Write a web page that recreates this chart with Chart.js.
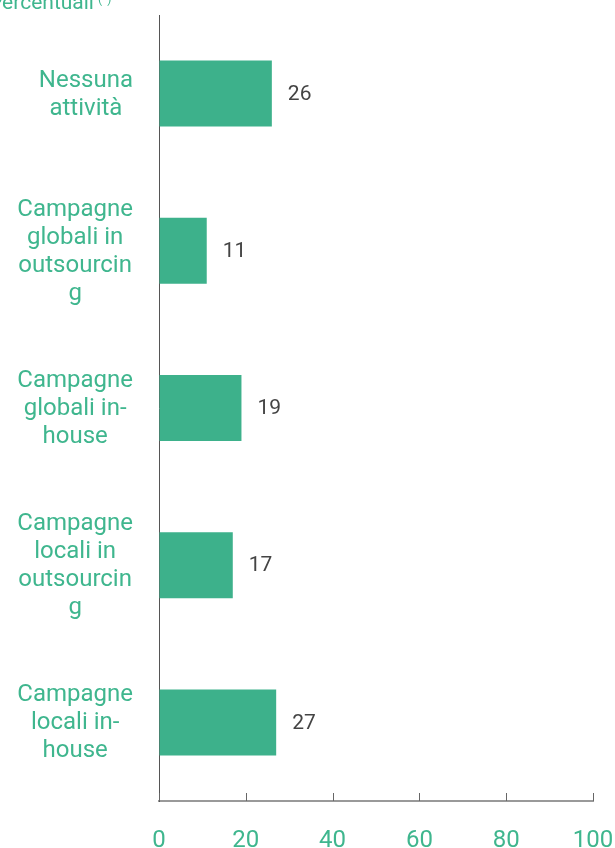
<!DOCTYPE html>
<html>
<head>
<meta charset="utf-8">
<script src="https://cdn.jsdelivr.net/npm/chart.js@4"></script>
<style>
  html, body { margin: 0; padding: 0; background: #fff; }
  #wrap { width: 615px; height: 848px; position: relative; }
</style>
</head>
<body>
<div id="wrap"><canvas id="bar-chart"></canvas></div>
<script>
// data
const categories = [
    ['Nessuna', 'attività'],
    ['Campagne', 'globali in', 'outsourcin', 'g'],
    ['Campagne', 'globali in-', 'house'],
    ['Campagne', 'locali in', 'outsourcin', 'g'],
    ['Campagne', 'locali in-', 'house']
];
const values = [26, 11, 19, 17, 27];
const xTicks = [0, 20, 40, 60, 80, 100];

const green = '#3db18b';
const labelGreen = '#3fb68e';

// title "Percentuali (*)" sits partly off the top edge
const titlePlugin = {
    id: 'titleText',
    afterDraw(chart) {
        const ctx = chart.ctx;
        ctx.save();
        ctx.fillStyle = labelGreen;
        ctx.textBaseline = 'alphabetic';
        ctx.textAlign = 'left';
        ctx.font = '21px Roboto';
        ctx.fillText('Percentuali', -11, 9);
        const w = ctx.measureText('Percentuali').width;
        ctx.font = '12px Roboto';
        ctx.fillText('(*)', -11 + w + 4, 3);
        ctx.restore();
    }
};

// y labels: lines centred inside a right aligned block
const yLabelPlugin = {
    id: 'yLabels',
    afterDraw(chart) {
        const ctx = chart.ctx;
        const yScale = chart.scales.y;
        const right = chart.chartArea.left - 26;
        const lh = 28;
        ctx.save();
        ctx.font = '24px Roboto';
        ctx.fillStyle = labelGreen;
        ctx.textAlign = 'center';
        ctx.textBaseline = 'middle';
        categories.forEach(function(lines, i){
            const yc = yScale.getPixelForValue(i) + 1;
            let widest = 0;
            lines.forEach(function(l){ widest = Math.max(widest, ctx.measureText(l).width); });
            const xc = right - widest / 2;
            const top = yc - (lines.length - 1) * lh / 2;
            lines.forEach(function(l, j){
                ctx.fillText(l, xc, top + j * lh);
            });
        });
        ctx.restore();
    }
};

// values at the end of each bar + tick marks pointing up from the x axis
const extrasPlugin = {
    id: 'extras',
    afterDatasetsDraw(chart) {
        const ctx = chart.ctx;
        const meta = chart.getDatasetMeta(0);
        ctx.save();
        ctx.font = '21px Roboto';
        ctx.fillStyle = '#444';
        ctx.textAlign = 'left';
        ctx.textBaseline = 'middle';
        meta.data.forEach(function(bar, i){
            ctx.fillText(String(values[i]), bar.x + 16, bar.y + 1);
        });

        const xScale = chart.scales.x;
        const bottom = chart.chartArea.bottom;
        ctx.strokeStyle = '#666';
        ctx.lineWidth = 1;
        xTicks.forEach(function(t){
            const px = Math.round(xScale.getPixelForValue(t)) + 0.5;
            ctx.beginPath();
            ctx.moveTo(px, bottom - 8);
            ctx.lineTo(px, bottom);
            ctx.stroke();
        });
        ctx.restore();
    }
};

const ctxEl = document.getElementById('bar-chart').getContext('2d');
const barChart = new Chart(ctxEl, {
    type: 'bar',
    data: {
        labels: categories,
        datasets: [{
            data: values,
            backgroundColor: green,
            borderWidth: 0,
            categoryPercentage: 1,
            barPercentage: 0.42
        }]
    },
    options: {
        indexAxis: 'y',
        animation: false,
        responsive: true,
        maintainAspectRatio: false,
        layout: { padding: { top: 15, right: 0, left: 0, bottom: 0 } },
        plugins: {
            legend: { display: false },
            tooltip: { enabled: false }
        },
        scales: {
            x: {
                min: 0,
                max: 100,
                afterBuildTicks(scale) {
                    scale.ticks = xTicks.map(function(v){ return { value: v }; });
                },
                afterFit(scale) {
                    scale.height = 47;
                    scale.paddingRight = 22;
                },
                grid: { display: true, drawOnChartArea: false, drawTicks: false },
                border: { display: true, color: '#999', width: 2 },
                ticks: {
                    color: labelGreen,
                    font: { family: 'Roboto', size: 24 },
                    padding: 26,
                    maxRotation: 0
                }
            },
            y: {
                afterFit(scale) { scale.width = 159; },
                grid: { display: false, drawTicks: false },
                border: { display: true, color: '#555', width: 1 },
                ticks: { display: false }
            }
        }
    },
    plugins: [titlePlugin, yLabelPlugin, extrasPlugin]
});
</script>
</body>
</html>
